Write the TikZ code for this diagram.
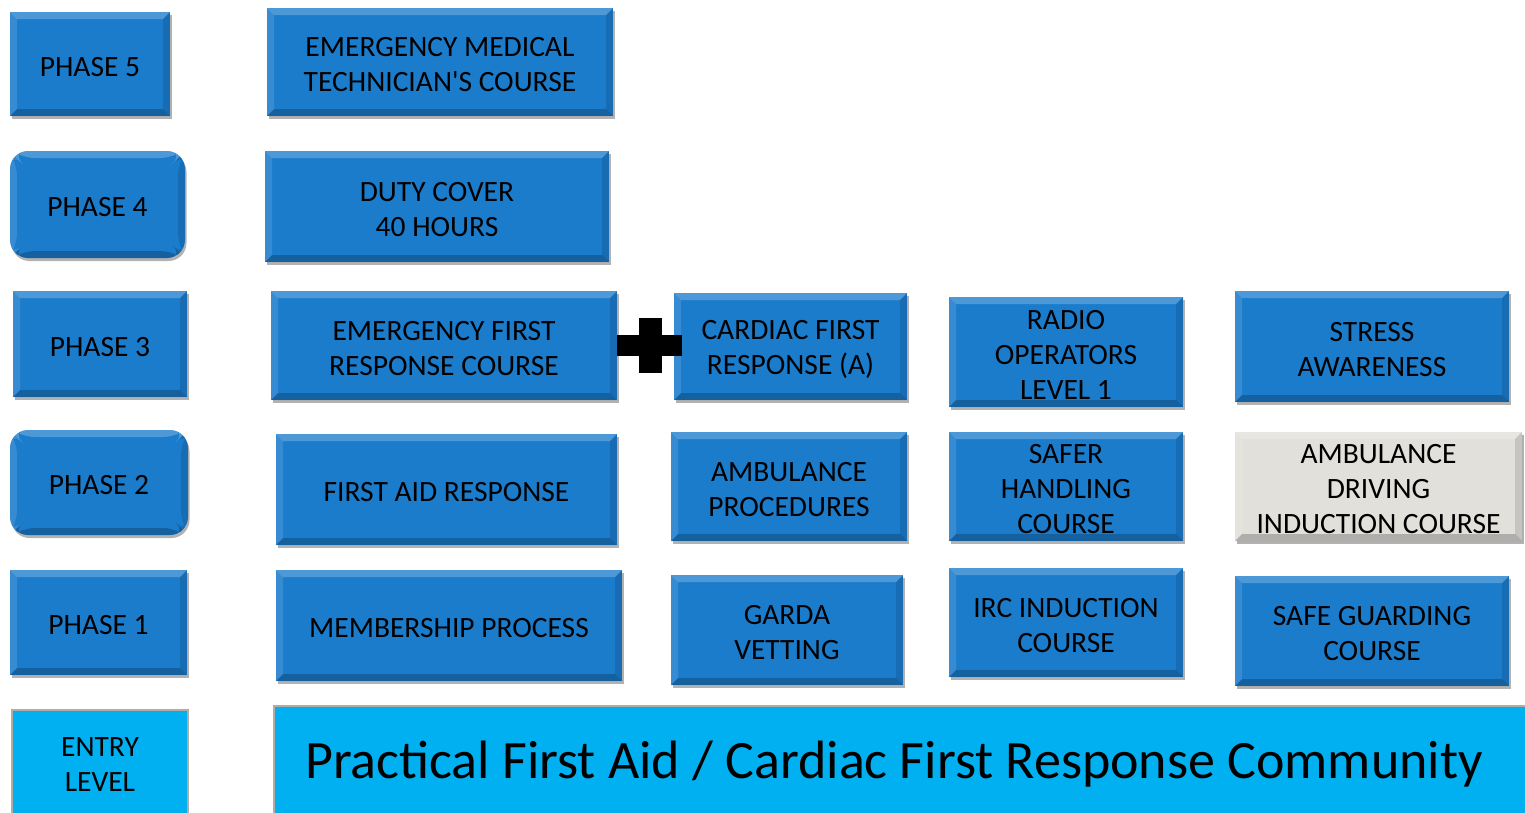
\documentclass[tikz,border=0pt]{standalone}
\usepackage{fontspec}
\setmainfont{Carlito}
\usetikzlibrary{shadows}
\definecolor{bblue}{RGB}{28,124,204}
\definecolor{lblue}{RGB}{0,176,240}
\definecolor{lgray}{RGB}{226,224,218}
\definecolor{eborder}{RGB}{178,172,164}
\tikzset{
  bevedge/.style={
    path picture={
      \def\pb{path picture bounding box}
      \fill[white,opacity=0.22] (\pb.north west) -- (\pb.north east) -- ([xshift=-7pt,yshift=-7pt]\pb.north east) -- ([xshift=7pt,yshift=-7pt]\pb.north west) -- cycle;
      \fill[white,opacity=0.12] (\pb.north west) -- (\pb.south west) -- ([xshift=7pt,yshift=7pt]\pb.south west) -- ([xshift=7pt,yshift=-7pt]\pb.north west) -- cycle;
      \fill[black,opacity=0.22] (\pb.south west) -- (\pb.south east) -- ([xshift=-7pt,yshift=7pt]\pb.south east) -- ([xshift=7pt,yshift=7pt]\pb.south west) -- cycle;
      \fill[black,opacity=0.12] (\pb.north east) -- (\pb.south east) -- ([xshift=-7pt,yshift=7pt]\pb.south east) -- ([xshift=-7pt,yshift=-7pt]\pb.north east) -- cycle;
    }},
  bev/.style={fill=bblue, draw=none, inner sep=0pt,
    drop shadow={shadow xshift=1.5pt, shadow yshift=-3pt, opacity=0.3, fill=black},
    bevedge},
  bevround/.style={bev, rounded corners=18pt},
  bevgray/.style={bev, fill=lgray},
  entrybox/.style={fill=lblue, draw=eborder, line width=1.5pt, inner sep=0pt},
  lbl/.style={text=black, align=center, inner sep=0pt, font=\fontsize{29.5}{35}\selectfont},
  biglbl/.style={text=black, inner sep=0pt, font=\fontsize{54}{60}\selectfont},
  plusbar/.style={fill=black, draw=none}
}
% [style]{name}{x1}{y1}{x2}{y2}{text}
\newcommand\bxx[7][bev]{%
  \pgfmathsetmacro\cx{(#3+#5)/2}\pgfmathsetmacro\cy{(#4+#6)/2}%
  \pgfmathsetmacro\ww{#5-#3}\pgfmathsetmacro\hh{#6-#4}%
  \node[#1, minimum width=\ww pt, minimum height=\hh pt] (#2) at (\cx,\cy) {};
  \node[lbl] (#2-t) at (\cx,\cy+3) {#7};}
\begin{document}
\begin{tikzpicture}[x=1pt,y=-1pt]
\useasboundingbox (0,0) rectangle (1525,812);
\clip (0,0) rectangle (1525,812);
% phases
\bxx{p5}{10}{12}{170}{116}{PHASE 5}
\bxx[bevround]{p4}{10}{151}{185}{258}{PHASE 4}
\bxx{p3}{13}{291}{187}{397}{PHASE 3}
\bxx[bevround]{p2}{10}{430}{188}{535}{PHASE 2}
\bxx{p1}{10}{570}{187}{675}{PHASE 1}
\node[entrybox, minimum width=176pt, minimum height=120pt] (entry) at (100,770) {};
\node[lbl] (entry-t) at (100,765) {ENTRY\\LEVEL};
% column 1
\bxx{emt}{267}{8}{613}{116}{EMERGENCY MEDICAL\\TECHNICIAN\textquotesingle S COURSE}
\bxx{duty}{265}{151}{609}{262}{DUTY COVER\\40 HOURS}
\bxx{efr}{271}{291}{617}{400}{EMERGENCY FIRST\\RESPONSE COURSE}
\bxx{far}{276}{434}{617}{545}{FIRST AID RESPONSE}
\bxx{mem}{276}{570}{622}{681}{MEMBERSHIP PROCESS}
\node[entrybox, minimum width=1266pt, minimum height=124pt] (pfa) at (907,768) {};
\node[biglbl] (pfa-t) at (894,764) {Practical First Aid / Cardiac First Response Community};
% column 2
\bxx{cfr}{674}{293}{907}{400}{CARDIAC FIRST\\RESPONSE (A)}
\bxx{ambp}{671}{432}{907}{541}{AMBULANCE\\PROCEDURES}
\bxx{garda}{671}{575}{903}{685}{GARDA\\VETTING}
% column 3
\bxx{radio}{949}{297}{1183}{407}{RADIO\\OPERATORS\\LEVEL 1}
\bxx{safer}{949}{432}{1183}{541}{SAFER\\HANDLING\\COURSE}
\bxx{irc}{949}{568}{1183}{677}{IRC INDUCTION\\COURSE}
% column 4
\bxx{stress}{1235}{291}{1509}{402}{STRESS\\AWARENESS}
\bxx[bevgray]{ambd}{1235}{432}{1522}{541}{AMBULANCE\\DRIVING\\INDUCTION COURSE}
\bxx{safeg}{1235}{576}{1509}{686}{SAFE GUARDING\\COURSE}
% plus sign
\fill[plusbar] (617,335) rectangle (682,356);
\fill[plusbar] (639,318) rectangle (662,373);
\end{tikzpicture}
\end{document}
